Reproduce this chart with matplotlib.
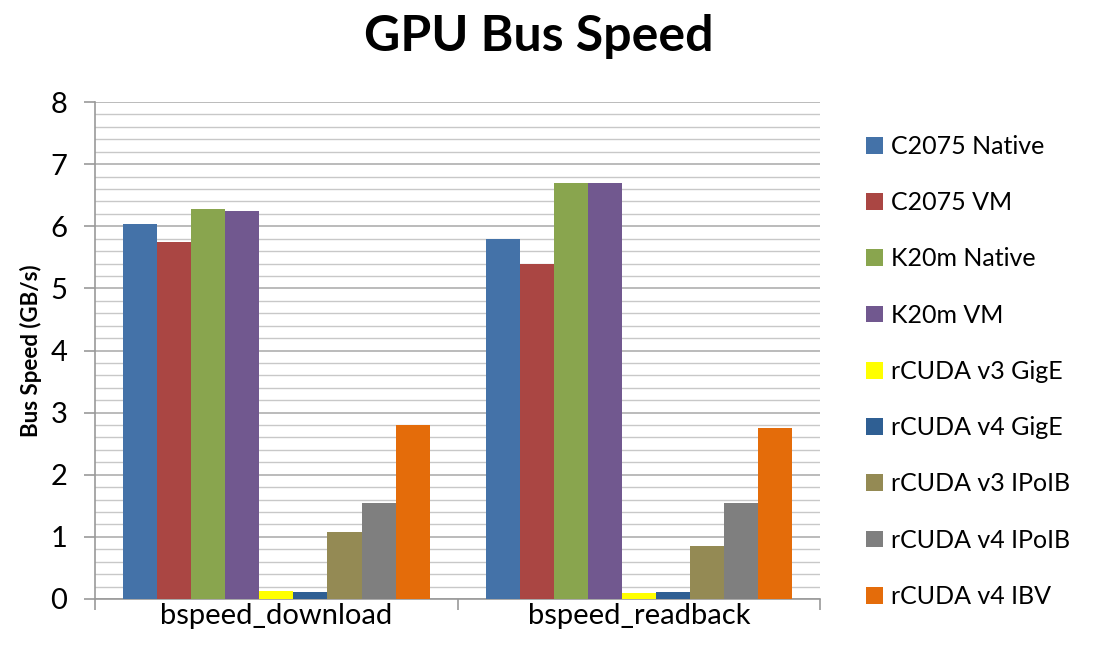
import matplotlib
matplotlib.use("Agg")
import matplotlib.pyplot as plt
import numpy as np
from matplotlib.patches import Patch
from matplotlib.ticker import MultipleLocator

plt.rcParams["font.family"] = ["Lato", "DejaVu Sans"]

# ── data ──────────────────────────────────────────────────────────────────────
categories = ["bspeed_download", "bspeed_readback"]
series = [
    "C2075 Native", "C2075 VM", "K20m Native", "K20m VM",
    "rCUDA v3 GigE", "rCUDA v4 GigE", "rCUDA v3 IPoIB", "rCUDA v4 IPoIB",
    "rCUDA v4 IBV",
]
download = [6.03, 5.75, 6.28, 6.25, 0.13, 0.12, 1.08, 1.55, 2.80]
readback = [5.80, 5.39, 6.69, 6.69, 0.10, 0.12, 0.85, 1.55, 2.75]
colors = ["#4472A8", "#AA4643", "#89A54E", "#71588F", "#FFFF00",
          "#2F5F93", "#948A54", "#7F7F7F", "#E46C0A"]

values = np.array([download, readback])

fig = plt.figure(figsize=(10.93, 6.54), dpi=100)
ax = fig.add_axes([0.0869, 0.0841, 0.6636, 0.7599])

n = len(series)
width = 0.094
x = np.arange(len(categories))
for i, (name, col) in enumerate(zip(series, colors)):
    ax.bar(x + (i - (n - 1) / 2) * width, values[:, i], width,
           color=col, edgecolor="none", label=name, zorder=3)

ax.set_xlim(-0.5, 1.5)
ax.set_ylim(0, 8)
ax.yaxis.set_major_locator(MultipleLocator(1))
ax.yaxis.set_minor_locator(MultipleLocator(0.2))
ax.grid(axis="y", which="major", color="#AFAFAF", linewidth=1.2, zorder=0)
ax.grid(axis="y", which="minor", color="#C8C8C8", linewidth=1.0, zorder=0)

# category boundaries as ticks, labels at centres
ax.set_xticks([-0.5, 0.5, 1.5])
ax.set_xticklabels([])
ax.set_xticks(x, minor=True)
ax.set_xticklabels(categories, minor=True, fontsize=21)
ax.tick_params(axis="x", which="major", length=8, width=1.2, color="#999999")
ax.tick_params(axis="x", which="minor", length=0, pad=3)
ax.tick_params(axis="y", which="major", length=8, width=1.2, color="#999999",
               labelsize=21, pad=12)
ax.tick_params(axis="y", which="minor", length=0)

for side in ("top", "right"):
    ax.spines[side].set_visible(False)
for side in ("left", "bottom"):
    ax.spines[side].set_color("#999999")
    ax.spines[side].set_linewidth(1.2)

ax.set_ylabel("Bus Speed (GB/s)", fontsize=16, fontweight="bold", labelpad=6)
fig.text(0.493, 0.944, "GPU Bus Speed", ha="center", va="center",
         fontsize=36, fontweight="bold")

handles = [Patch(facecolor=c, edgecolor="none", label=s)
           for s, c in zip(series, colors)]
fig.legend(handles=handles, loc="upper left", bbox_to_anchor=(0.772, 0.828),
           frameon=False, fontsize=18, labelspacing=1.33,
           handlelength=0.65, handleheight=0.65, handletextpad=0.35)

fig.savefig("out.png", dpi=100)
